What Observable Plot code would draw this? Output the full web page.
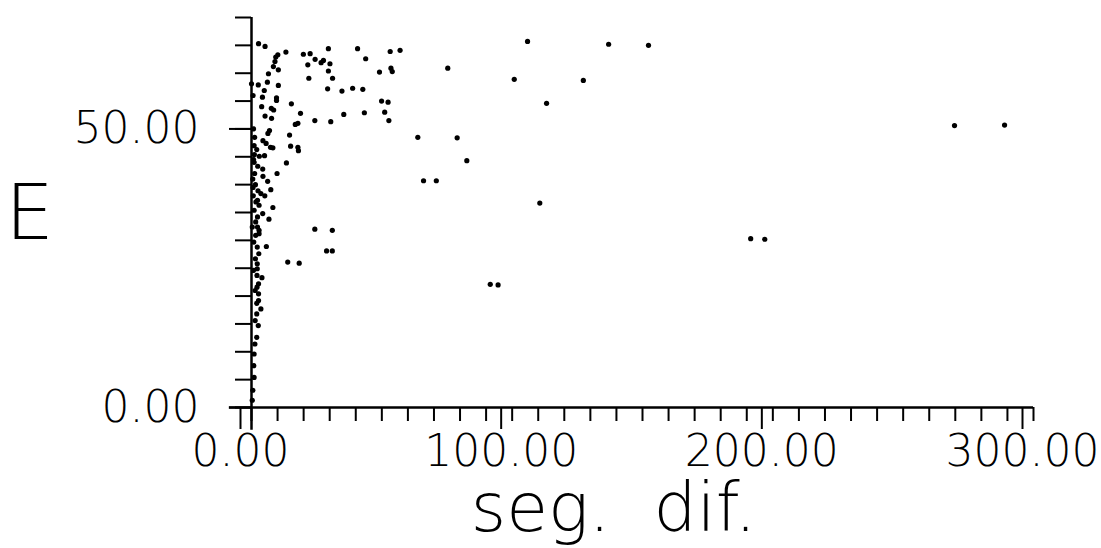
<!DOCTYPE html>
<html><head><meta charset="utf-8">
<script src="https://cdn.jsdelivr.net/npm/d3@7"></script>
<script src="https://cdn.jsdelivr.net/npm/@observablehq/plot@0.6"></script>
<style>
html,body{margin:0;padding:0;background:#fff;}
#chart svg{display:block;}
</style></head><body><div id="chart"></div>
<script>
// seg. dif. (x) and E (y) values
const segDif = [
  2.7, 5.2, 13.2, 10.1, 9.3, 9.0, 8.4, 10.3, 19.9, 22.5, 29.5, 40.7, 24.4, 26.7, 27.6, 30.1, 21.6, 43.8, 53.2, 57.0,
  29.5, 49.1, 53.5, 54.0, 6.5, 22.0, 31.1, 2.6, 0.0, 6.1, 10.3, 4.9, 29.2, 34.7, 38.8, 42.7, 0.6, 4.2, 9.6, 9.6,
  15.3, 49.9, 52.4, 3.9, 7.6, 8.5, 18.8, 51.1, 43.3, 35.4, 5.2, 7.7, 24.3, 30.4, 52.7, 17.8, 16.8, 6.9, 6.3, 14.6,
  63.8, 78.9, 4.4, 5.6, 7.3, 8.2, 15.0, 17.8, 18.0, 2.0, 3.0, 5.0, 82.6, 13.4, 2.4, 4.3, 9.8, 4.4, 6.2, 66.0,
  70.9, 2.5, 3.6, 5.1, 7.4, 105.9, 137.0, 152.3, 75.3, 100.8, 127.3, 113.2, 269.7, 288.9, 191.5, 196.9, 110.6, 91.6, 94.6, 24.3,
  31.0, 28.8, 31.0, 13.9, 18.3, 8.2, 4.3, 6.7, 5.7, 3.6,
  1.7, 2.9, 2.3, 1.0, 2.3, 1.6, 0.3, 2.3, 2.9, 2.9, 1.6, 0.9, 2.2, 2.8, 1.5, 2.2, 0.8, 2.2, 2.1, 4.0,
  2.7, 2.1, 1.4, 2.7, 2.7, 2.0, 2.0, 1.4, 2.6, 2.0, 1.3, 1.0, 0.9, 1.0, 0.5, 0.3,
  0.8, 1.2, 1.0, 0.5, 1.5, 0.7, 0.8, 1.2, 0.6, 1.0, 1.1
];
const E = [
  65.3, 64.8, 63.8, 63.3, 62.9, 62.1, 61.2, 60.6, 63.4, 63.5, 64.4, 64.4, 62.5, 61.9, 62.3, 61.7, 61.5, 62.6, 63.9, 64.1,
  60.4, 60.2, 60.9, 60.3, 59.9, 59.1, 59.1, 57.9, 58.1, 58.4, 57.8, 56.9, 57.2, 56.8, 57.3, 57.1, 56.0, 55.7, 55.6, 55.1,
  54.5, 55.0, 54.8, 54.0, 53.7, 53.4, 52.8, 53.0, 52.9, 52.6, 52.3, 51.9, 51.5, 51.3, 51.5, 51.0, 50.8, 49.7, 49.2, 48.9,
  48.5, 48.4, 47.9, 47.4, 46.7, 46.6, 46.9, 46.7, 46.1, 46.3, 45.1, 45.2, 44.3, 43.9, 43.3, 42.8, 42.0, 41.5, 40.6, 40.7,
  40.7, 38.9, 38.4, 38.0, 39.1, 65.7, 65.2, 65.0, 60.9, 58.9, 58.7, 54.6, 50.6, 50.7, 30.3, 30.2, 36.7, 22.1, 22.0, 32.0,
  31.8, 28.1, 28.1, 26.1, 25.9, 35.9, 34.8, 33.8, 28.9, 17.7,
  36.9, 36.3, 37.2, 35.4, 34.2, 33.3, 32.4, 32.4, 31.8, 31.2, 30.9, 29.7, 28.8, 27.6, 26.7, 25.8, 24.6, 24.9, 23.7, 23.3,
  22.2, 21.6, 21.0, 20.4, 19.2, 18.7, 16.8, 15.6, 14.7, 12.6, 11.4, 9.6, 7.5, 5.4, 3.1, 1.3,
  50.0, 48.5, 44.0, 41.0, 40.0, 38.0, 44.5, 42.0, 39.5, 47.0, 45.4
];
const xMinorTicks = [0,10,20,30,40,50,60,70,80,90,100,110,120,130,140,150,160,170,180,190,200,210,220,230,240,250,260,270,280,290,300];
const xMajorTicks = [0, 100, 200, 300];
const xTickLabels = ["0.00", "100.00", "200.00", "300.00"];
const yMinorTicks = [0,5,10,15,20,25,30,35,40,45,50,55,60,65,70];
const yMajorTicks = [0, 50];
const yTickLabels = ["0.00", "50.00"];
const xTitle = "seg.\u00a0\u00a0dif.";
const yTitle = "E";

const points = segDif.map((x, i) => ({segDif: x, E: E[i]}));

const plot = Plot.plot({
  width: 1101,
  height: 548,
  marginLeft: 251,
  marginRight: 68,
  marginTop: 17,
  marginBottom: 141,
  x: {domain: [0, 300], label: null},
  y: {domain: [0, 70], label: null},
  style: {fontFamily: "'DejaVu Sans', sans-serif", fontWeight: "200", color: "#000", background: "#fff", overflow: "visible"},
  marks: [
    Plot.axisX(xMinorTicks, {tickSize: 14, tickFormat: () => "", strokeWidth: 2}),
    Plot.axisX(xMajorTicks, {tickSize: 22, tickPadding: 5, strokeWidth: 2, fontSize: 44, fontWeight: 200, dx: -11,
      tickFormat: d => xTickLabels[xMajorTicks.indexOf(d)]}),
    Plot.axisY(yMinorTicks, {tickSize: 16, tickFormat: () => "", strokeWidth: 2}),
    Plot.axisY(yMajorTicks, {tickSize: 22, tickPadding: 30, strokeWidth: 2, fontSize: 44, fontWeight: 200,
      tickFormat: d => yTickLabels[yMajorTicks.indexOf(d)]}),
    Plot.ruleY([0], {x1: -8.5, x2: 300, strokeWidth: 2.5}),
    Plot.ruleX([0], {y1: -4.1, y2: 70, strokeWidth: 2.5}),
    Plot.dot(points, {x: "segDif", y: "E", r: 2.6, fill: "#000", stroke: null}),
    Plot.text([yTitle], {frameAnchor: "left", text: d => d, dx: -222, dy: 2, fontSize: 77, fontWeight: 200, textAnchor: "middle", lineAnchor: "middle"}),
    Plot.text([xTitle], {frameAnchor: "bottom", text: d => d, dx: -29, dy: 123, fontSize: 68, fontWeight: 200, textAnchor: "middle", lineAnchor: "bottom", letterSpacing: 4})
  ]
});
document.getElementById("chart").appendChild(plot);
</script>
</body></html>
